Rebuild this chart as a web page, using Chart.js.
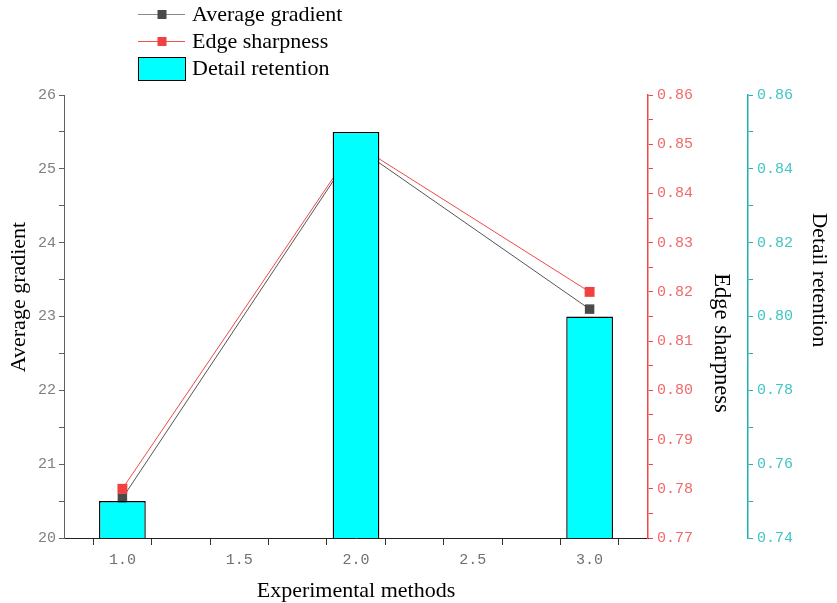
<!DOCTYPE html>
<html lang="en">
<head>
    <meta charset="UTF-8">
    <title>Experimental methods</title>
    <script src="https://cdn.jsdelivr.net/npm/chart.js"></script>
    <style>
        html, body { margin: 0; padding: 0; background: #fff; }
        #wrap { width: 837px; height: 603px; position: relative; }
    </style>
</head>
<body>
    <div id="wrap">
        <canvas id="chart" width="837" height="603"></canvas>
    </div>
    <script>
        // data
        var methods = [1, 2, 3];
        var avgGradient = [20.54, 25.3, 23.1];
        var edgeSharpness = [0.78, 0.85, 0.82];
        var detailRetention = [0.75, 0.85, 0.80];

        var legendLabels = ['Average gradient', 'Edge sharpness', 'Detail retention'];
        var xTitle = 'Experimental methods';

        var serif = '"Liberation Serif", "Times New Roman", serif';
        var tickFont = { family: '"Liberation Mono", monospace', size: 15 };

        function pts(ys) {
            return methods.map(function (m, i) { return { x: m, y: ys[i] }; });
        }

        function near(v, step) {
            return Math.abs(v / step - Math.round(v / step)) < 1e-6;
        }

        function vtext(ctx, txt, x, y, angle, size) {
            ctx.save();
            ctx.translate(x, y);
            ctx.rotate(angle);
            ctx.font = size + 'px ' + serif;
            ctx.fillText(txt, 0, 0);
            ctx.restore();
        }

        // axis titles and legend drawn on top
        var extras = {
            id: 'extras',
            afterDraw: function (chart) {
                var ctx = chart.ctx;
                var area = chart.chartArea;
                ctx.save();
                ctx.fillStyle = '#000';
                ctx.textAlign = 'center';
                ctx.textBaseline = 'middle';

                ctx.font = '22px ' + serif;
                ctx.fillText(xTitle, (area.left + area.right) / 2, 591);

                vtext(ctx, legendLabels[0], 19, 297, -Math.PI / 2, 22);
                vtext(ctx, legendLabels[1], 721, 343, Math.PI / 2, 22.5);
                vtext(ctx, legendLabels[2], 819, 280, Math.PI / 2, 21.5);

                // legend
                ctx.textAlign = 'left';
                ctx.font = '22px ' + serif;
                var lx = 138, lw = 47;
                var rows = [14, 41];
                var lineCol = ['#8a8a8a', '#f05050'];
                var markCol = ['#4a4a4a', '#f04040'];
                for (var i = 0; i < 2; i++) {
                    ctx.strokeStyle = lineCol[i];
                    ctx.lineWidth = 1;
                    ctx.beginPath();
                    ctx.moveTo(lx, rows[i] + 0.5);
                    ctx.lineTo(lx + lw, rows[i] + 0.5);
                    ctx.stroke();
                    ctx.fillStyle = markCol[i];
                    ctx.fillRect(lx + lw / 2 - 4, rows[i] - 4, 9, 9);
                    ctx.fillStyle = '#000';
                    ctx.fillText(legendLabels[i], 192, rows[i] + 1);
                }
                ctx.fillStyle = '#00ffff';
                ctx.fillRect(lx, 57, lw, 23);
                ctx.strokeStyle = '#000';
                ctx.strokeRect(lx + 0.5, 57.5, lw, 23);
                ctx.fillStyle = '#000';
                ctx.fillText(legendLabels[2], 192, 69);
                ctx.restore();
            }
        };

        var ctx = document.getElementById('chart').getContext('2d');
        var chart = new Chart(ctx, {
            data: {
                datasets: [{
                    type: 'bar',
                    label: legendLabels[2],
                    data: pts(detailRetention),
                    xAxisID: 'x',
                    yAxisID: 'yDetail',
                    backgroundColor: '#00ffff',
                    borderColor: '#000',
                    borderWidth: 1.4,
                    borderSkipped: false,
                    // ruler uses the 0.25 tick spacing, so 0.8 of it = 0.2 units
                    barPercentage: 0.8,
                    categoryPercentage: 1,
                    order: 0
                }, {
                    type: 'line',
                    label: legendLabels[1],
                    data: pts(edgeSharpness),
                    xAxisID: 'x',
                    yAxisID: 'yEdge',
                    borderColor: '#f04848',
                    borderWidth: 1,
                    pointStyle: 'rect',
                    pointRadius: 7,
                    pointBackgroundColor: '#f04040',
                    pointBorderWidth: 0,
                    tension: 0,
                    order: 1
                }, {
                    type: 'line',
                    label: legendLabels[0],
                    data: pts(avgGradient),
                    xAxisID: 'x',
                    yAxisID: 'y',
                    borderColor: '#555',
                    borderWidth: 1,
                    pointStyle: 'rect',
                    pointRadius: 6.7,
                    pointBackgroundColor: '#4a4a4a',
                    pointBorderWidth: 0,
                    tension: 0,
                    order: 2
                }]
            },
            options: {
                responsive: false,
                animation: false,
                layout: { padding: { top: 95, left: 0, right: 0, bottom: 0 } },
                plugins: {
                    legend: { display: false },
                    tooltip: { enabled: false }
                },
                scales: {
                    x: {
                        type: 'linear',
                        position: 'bottom',
                        min: 0.75,
                        max: 3.25,
                        offset: false,
                        afterFit: function (s) { s.height = 65; },
                        grid: { drawOnChartArea: false, tickLength: 7, color: '#333', tickColor: '#333' },
                        border: { display: true, color: '#222', width: 1 },
                        ticks: {
                            stepSize: 0.25,
                            autoSkip: false,
                            maxRotation: 0,
                            padding: 6,
                            color: '#707070',
                            font: tickFont,
                            callback: function (v) { return near(v, 0.5) ? v.toFixed(1) : ''; }
                        }
                    },
                    y: {
                        type: 'linear',
                        position: 'left',
                        min: 20,
                        max: 26,
                        afterFit: function (s) { s.width = 64; },
                        grid: { drawOnChartArea: false, tickLength: 5, color: '#606060', tickColor: '#606060' },
                        border: { display: true, color: '#606060', width: 1 },
                        ticks: {
                            stepSize: 0.5,
                            autoSkip: false,
                            padding: 3,
                            color: '#808080',
                            font: tickFont,
                            callback: function (v) { return near(v, 1) ? String(Math.round(v)) : ''; }
                        }
                    },
                    yEdge: {
                        type: 'linear',
                        position: 'right',
                        min: 0.77,
                        max: 0.86,
                        afterFit: function (s) { s.width = 100; },
                        grid: { drawOnChartArea: false, tickLength: 5, color: '#f04848', tickColor: '#f04848' },
                        border: { display: true, color: '#f04848', width: 1.5 },
                        ticks: {
                            stepSize: 0.005,
                            autoSkip: false,
                            padding: 4,
                            color: '#f06a6a',
                            font: tickFont,
                            callback: function (v) { return near(v, 0.01) ? v.toFixed(2) : ''; }
                        }
                    },
                    yDetail: {
                        type: 'linear',
                        position: 'right',
                        min: 0.74,
                        max: 0.86,
                        afterFit: function (s) { s.width = 89; },
                        grid: { drawOnChartArea: false, tickLength: 5, color: '#20b0b0', tickColor: '#20b0b0' },
                        border: { display: true, color: '#20b0b0', width: 1.5 },
                        ticks: {
                            stepSize: 0.01,
                            autoSkip: false,
                            padding: 4,
                            color: '#40c4c4',
                            font: tickFont,
                            callback: function (v) { return near(v, 0.02) ? v.toFixed(2) : ''; }
                        }
                    }
                }
            },
            plugins: [extras]
        });
    </script>
</body>
</html>
